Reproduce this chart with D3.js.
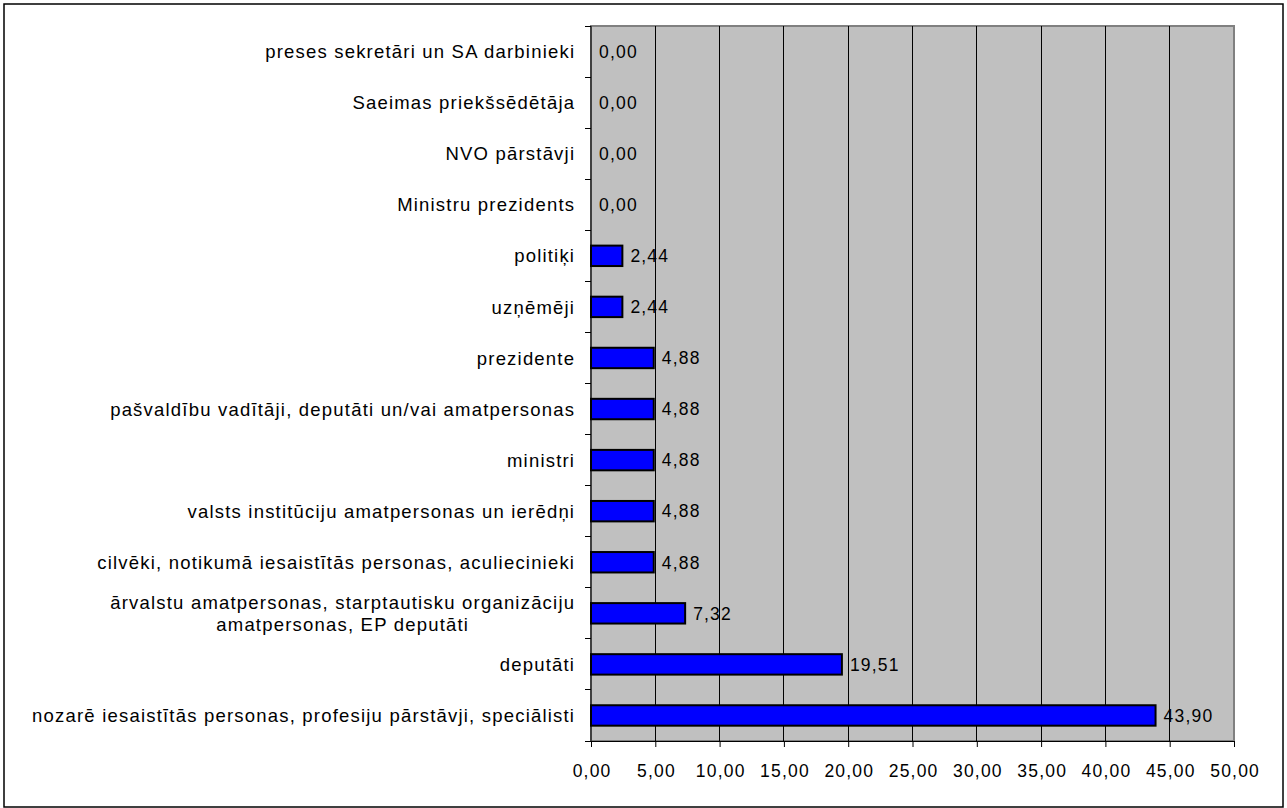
<!DOCTYPE html>
<html><head><meta charset="utf-8">
<script src="https://cdn.jsdelivr.net/npm/d3@7"></script>
<style>html,body{margin:0;padding:0;background:#fff;}svg{display:block;font-family:"Liberation Sans",Arial,sans-serif;}</style>
</head><body>
<svg id="c" width="1287" height="808"></svg>
<script>
const categories = [
  ["preses sekretāri un SA darbinieki"],
  ["Saeimas priekšsēdētāja"],
  ["NVO pārstāvji"],
  ["Ministru prezidents"],
  ["politiķi"],
  ["uzņēmēji"],
  ["prezidente"],
  ["pašvaldību vadītāji, deputāti un/vai amatpersonas"],
  ["ministri"],
  ["valsts institūciju amatpersonas un ierēdņi"],
  ["cilvēki, notikumā iesaistītās personas, aculiecinieki"],
  ["ārvalstu amatpersonas, starptautisku organizāciju", "amatpersonas, EP deputāti"],
  ["deputāti"],
  ["nozarē iesaistītās personas, profesiju pārstāvji, speciālisti"]
];
const values = [0.00, 0.00, 0.00, 0.00, 2.44, 2.44, 4.88, 4.88, 4.88, 4.88, 4.88, 7.32, 19.51, 43.90];
const xTicks = [0, 5, 10, 15, 20, 25, 30, 35, 40, 45, 50];

const fmt = v => v.toFixed(2).replace(".", ",");
const svg = d3.select("#c");
const m = {left: 591, right: 1234, top: 26, bottom: 741};
const FS_NUM = 17.5, LS_NUM = 1.2;
const FS_LAB = 18.5, LS_LAB = 1.2;

svg.append("rect").attr("x", 4).attr("y", 4).attr("width", 1279).attr("height", 803)
  .attr("fill", "#fff").attr("stroke", "#000").attr("stroke-width", 1.5);

const x = d3.scaleLinear().domain([0, 50]).range([m.left, m.right]);
const y = d3.scaleBand().domain(d3.range(categories.length)).range([m.top, m.bottom]).paddingInner(0.6).paddingOuter(0.3);
const yb = d3.scaleBand().domain(d3.range(categories.length)).range([m.top, m.bottom]);

svg.append("rect").attr("x", m.left).attr("y", m.top).attr("width", m.right - m.left).attr("height", m.bottom - m.top)
  .attr("fill", "#c0c0c0").attr("stroke", "#808080").attr("stroke-width", 2);

svg.append("g").selectAll("line").data(xTicks.slice(1, -1)).join("line")
  .attr("x1", d => x(d)).attr("x2", d => x(d)).attr("y1", m.top).attr("y2", m.bottom)
  .attr("stroke", "#000").attr("stroke-width", 1).attr("shape-rendering", "crispEdges");

// x axis
const xAxis = d3.axisBottom(x).tickValues(xTicks).tickSize(6).tickPadding(18).tickFormat(fmt);
const gx = svg.append("g").attr("transform", `translate(0,${m.bottom})`).call(xAxis);
gx.select(".domain").attr("stroke", "#000");
gx.selectAll(".tick line").attr("stroke", "#000");
gx.selectAll("text").attr("font-size", FS_NUM).attr("fill", "#000")
  .attr("font-family", "Liberation Sans, Arial, sans-serif").attr("letter-spacing", LS_NUM)
  .attr("dx", LS_NUM / 2);

// y axis line + ticks at band boundaries
svg.append("line").attr("x1", m.left).attr("x2", m.left).attr("y1", m.top).attr("y2", m.bottom).attr("stroke", "#000");
svg.append("g").selectAll("line").data(d3.range(categories.length + 1)).join("line")
  .attr("x1", m.left - 6).attr("x2", m.left)
  .attr("y1", i => m.top + i * yb.step()).attr("y2", i => m.top + i * yb.step())
  .attr("stroke", "#000").attr("shape-rendering", "crispEdges");

// bars
svg.append("g").selectAll("rect").data(values).join("rect")
  .attr("x", x(0)).attr("y", (d, i) => y(i)).attr("width", d => x(d) - x(0)).attr("height", y.bandwidth())
  .attr("fill", "#0000ff").attr("stroke", "#000").attr("stroke-width", 2);

// value labels
svg.append("g").selectAll("text").data(values).join("text")
  .attr("x", d => x(d) + 8).attr("y", (d, i) => yb(i) + yb.bandwidth() / 2)
  .attr("dy", "0.36em").attr("font-size", FS_NUM).attr("letter-spacing", LS_NUM).attr("fill", "#000").text(fmt);

// category labels
const labelRight = 574 + LS_LAB;
const lab = svg.append("g").selectAll("text").data(categories).join("text")
  .attr("font-size", FS_LAB).attr("letter-spacing", LS_LAB).attr("fill", "#000")
  .attr("y", (d, i) => yb(i) + yb.bandwidth() / 2);
lab.each(function(lines) {
  const t = d3.select(this);
  const n = lines.length;
  if (n === 1) {
    t.attr("text-anchor", "end").append("tspan").attr("x", labelRight).attr("dy", "0.36em").text(lines[0]);
  } else {
    const probe = svg.append("text").attr("font-size", FS_LAB).attr("letter-spacing", LS_LAB).text(lines[0]);
    const w = probe.node().getComputedTextLength();
    probe.remove();
    const cx = labelRight - w / 2;
    t.attr("text-anchor", "middle");
    lines.forEach((ln, k) => {
      t.append("tspan").attr("x", cx)
        .attr("dy", k === 0 ? `${0.36 - (n - 1) * 0.6}em` : "1.2em").text(ln);
    });
  }
});
</script>
</body></html>
